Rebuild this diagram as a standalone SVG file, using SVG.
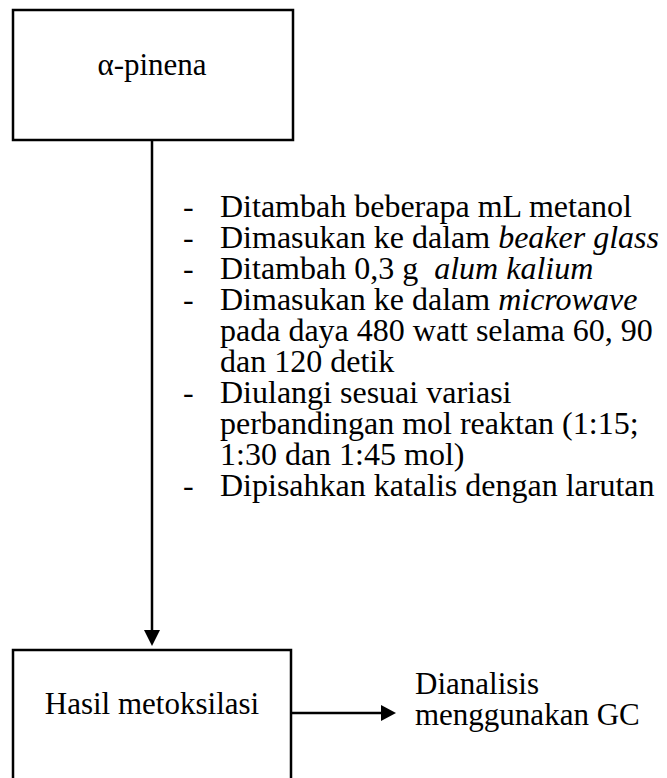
<svg xmlns="http://www.w3.org/2000/svg" width="667" height="778" viewBox="0 0 667 778">
<style>
.box{fill:#fff;stroke:#000;stroke-width:2.5}
.ln{stroke:#000;stroke-width:2.5;fill:none}
.t{font-family:'Liberation Serif','Times New Roman',serif;font-size:31px;fill:#000}
.s{font-size:32px}
.it{font-style:italic}
</style>
<rect width="667" height="778" fill="#fff"/>
<g id="connectors">
<line class="ln" x1="152" y1="141" x2="152" y2="632"/>
<polygon points="144,630 160,630 152,646" fill="#000"/>
<line class="ln" x1="291" y1="713" x2="383" y2="713"/>
<polygon points="381,705 381,721 396,713" fill="#000"/>
</g>
<g id="node-pinena">
<rect class="box" x="13" y="10" width="280" height="130"/>
<text class="t" x="152" y="75" text-anchor="middle">α-pinena</text>
</g>
<g id="steps" class="t s">
<text x="183" y="217">-</text><text x="220" y="217">Ditambah beberapa mL metanol</text>
<text x="183" y="248">-</text><text x="220" y="248">Dimasukan ke dalam <tspan class="it">beaker glass</tspan></text>
<text x="183" y="279">-</text><text x="220" y="279">Ditambah 0,3 g &#160;<tspan class="it">alum kalium</tspan></text>
<text x="183" y="310">-</text><text x="220" y="310">Dimasukan ke dalam <tspan class="it">microwave</tspan></text>
<text x="220" y="341">pada daya 480 watt selama 60, 90</text>
<text x="220" y="372">dan 120 detik</text>
<text x="183" y="403">-</text><text x="220" y="403">Diulangi sesuai variasi</text>
<text x="220" y="434">perbandingan mol reaktan (1:15;</text>
<text x="220" y="465">1:30 dan 1:45 mol)</text>
<text x="183" y="496">-</text><text x="220" y="496">Dipisahkan katalis dengan larutan</text>
</g>
<g id="node-hasil">
<rect class="box" x="13" y="650" width="278" height="140"/>
<text class="t" x="152" y="714" text-anchor="middle">Hasil metoksilasi</text>
</g>
<g id="node-gc" class="t">
<text x="415" y="694">Dianalisis</text>
<text x="415" y="725">menggunakan GC</text>
</g>
</svg>
